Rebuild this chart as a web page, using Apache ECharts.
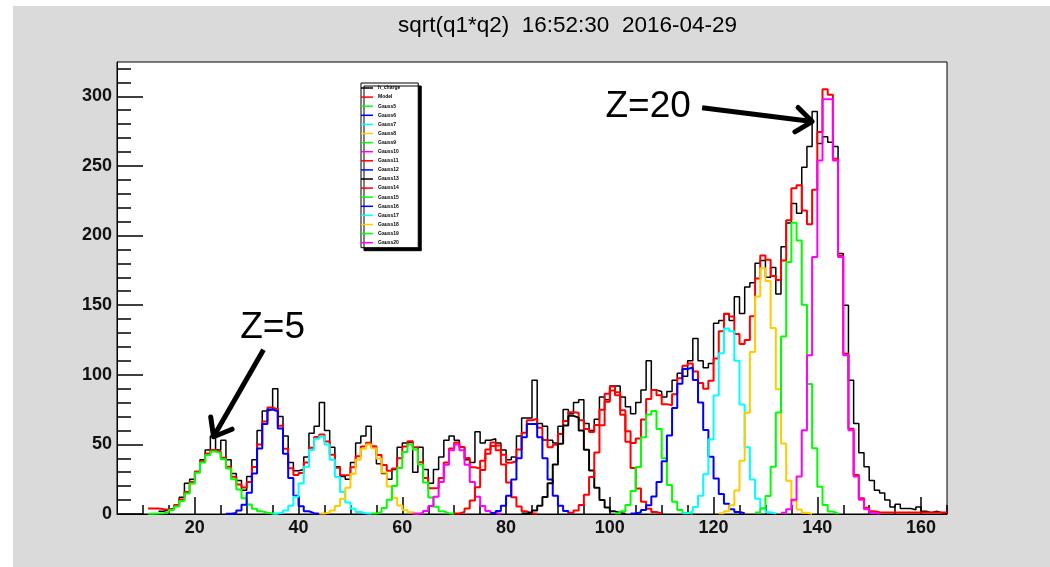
<!DOCTYPE html>
<html><head><meta charset="utf-8">
<script src="https://cdn.jsdelivr.net/npm/echarts@6/dist/echarts.min.js"></script>
<style>html,body{margin:0;padding:0;background:#fff}#c{width:1050px;height:567px}</style>
</head><body><div id="c"></div>
<script>
// ---------- data (1-unit bins, value = left edge of bin) ----------
const binWidth = 1;
const dataStart = 13;
const dataCounts = [
  2,3,4,6,12,22,25,30,39,46,
  56,46,53,39,29,24,17,27,39,60,
  74,75,90,70,56,37,31,32,41,58,
  63,80,60,48,34,27,25,37,51,56,
  63,48,36,29,25,32,48,51,52,30,
  48,32,22,32,41,53,56,53,48,39,
  37,59,51,53,54,51,46,39,41,56,
  69,69,96,65,63,53,51,63,75,72,
  80,82,65,60,68,84,82,92,92,84,
  77,72,80,89,110,89,88,84,88,96,
  101,99,110,126,110,105,108,137,139,144,
  139,156,144,163,166,180,182,170,177,158,
  192,209,223,216,249,264,289,266,271,267,
  264,187,150,96,65,44,34,24,17,15,
  10,5,7,4,4,3,5,2,1,2,1,0
];
const modelStart = 11;
const modelValues = [
  4,4,3.5,3,3.9,6.4,10.4,15.8,22.9,30.6,
  37.9,43.4,45.9,44.8,40.4,33.9,26.7,21.1,19.1,23,
  33.8,49.9,66.5,76.4,75.2,63.4,46.9,32.8,28,29.5,
  37,47.5,55.3,57.1,52,42.6,33.3,27.8,28,33.5,
  41.4,48.4,51.1,48.7,42.4,35.1,31,32.7,40.1,48.4,
  52.2,47.9,37.2,25.8,18.5,18.6,25.8,36.9,47,51.4,
  48.2,40.3,33.6,32.6,38.3,46.4,51.3,49.2,42.5,36.8,
  37.9,46.3,58.3,67.3,68.4,62,53.2,47.9,49.7,57.4,
  66.7,73.1,72.7,67.4,61,58.8,63.9,74.8,86.3,91.6,
  87.4,74.5,59.4,51,54.3,67.8,82.5,89,85.3,78.9,
  78.1,86,97.4,106.4,108.1,102.4,94.1,89.9,95.7,111.6,
  131.2,143.6,141.9,129.3,122,125,142.1,169.2,185.6,182.6,
  171,168,182,211,234,236,218,208,232.8,274.3,
  305,301,255.2,185.5,115,61.2,28,11.3,4.4,1.9,
  1.2,1,1,1,1,1,1,1,1,1,
  1,1,1,1
];
const gaussNames = ['Gauss5','Gauss6','Gauss7','Gauss8','Gauss9','Gauss10','Gauss11','Gauss12',
                    'Gauss13','Gauss14','Gauss15','Gauss16','Gauss17','Gauss18','Gauss19','Gauss20'];
const gaussStarts = [11,26,35,44,54,62,70,77,83,92,101,104,114,121,128,133];
const gauss5  = [0.1,0.3,0.6,1.4,2.9,5.4,9.4,14.8,21.9,29.6,36.9,42.4,44.9,43.8,39.4,32.7,24.9,17.6,11.4,6.8,3.8,1.9,0.9,0.4,0.1];
const gauss6  = [0.2,0.8,2.5,6.7,15.2,29,47,64.6,75,73.8,61.4,43.3,25.8,13.1,5.6,2,0.6,0.2];
const gauss7  = [0.3,1.0,2.6,6.0,12.3,21.9,34,45.9,54.1,55.7,49.9,39,26.6,15.8,8.2,3.7,1.5,0.5,0.1];
const gauss8  = [0.4,1.1,2.6,5.7,11,18.8,28.8,38.9,46.9,50,47.3,39.9,29.8,19.8,11.6,6.1,2.8,1.2,0.4];
const gauss9  = [0.4,1.5,4.3,10.2,20.1,33,44.6,50,46.3,35.5,22.6,11.8,5.2,1.9,0.6,0.2];
const gauss10 = [0.2,0.7,2.2,5.7,12.4,22.9,35.3,45.8,50,45.8,35.3,22.9,12.4,5.7,2.2,0.7,0.2];
const gauss11 = [0.4,1.4,4.0,9.7,19.2,31.6,43.2,48.9,45.8,35.6,22.7,12.1,5.3,1.9,0.6,0.2];
const gauss12 = [0.7,2.2,5.9,13.1,24.8,40,55.1,64.7,64.7,55.1,40,24.8,13.1,5.9,2.2,0.7];
const gauss13 = [0.3,1.0,2.5,5.9,12.2,22.1,35.6,50.5,63.5,70.5,69.2,60,46.1,31.3,18.8,10,4.7,1.9,0.7,0.2];
const gauss14 = [0.9,2.5,6.4,13.9,26.5,44.1,63.8,80.6,88.7,85.2,71.3,51.9,33,18.3,8.8,3.7,1.4,0.4];
const gauss15 = [0.5,2.0,6.5,16.6,33.8,55.1,71.5,74,61,40.1,20.8,8.8,2.9,0.8,0.2];
const gauss16 = [0.4,1.2,2.9,6.3,12.6,22.9,37.8,56.3,76.2,93.5,104.1,105.2,96.3,80,60.3,41.2,25.5,14.3,7.3,3.4,1.4,0.5];
const gauss17 = [0.5,1.7,5.1,13.1,28.6,53.5,85.1,115.4,133.3,131.2,110,78.6,47.9,24.8,11,4.2,1.3,0.4];
const gauss18 = [0.5,2,6.3,16.9,38.3,72.8,116.3,156.2,176.4,167.4,133.6,89.6,50.6,23.9,9.5,3.2,0.9,0.2];
const gauss19 = [1.0,4.0,12.9,34,72.9,127.4,181,209.1,196.5,150.3,93.4,47.3,19.5,6.5,1.8,0.4];
const gauss20 = [0.9,3.4,10.3,27,60.2,114,184.5,253.8,297.9,297.9,253.8,184.5,114,60.2,27,10.3,3.4,0.9,0.2];
const gaussValues = [gauss5,gauss6,gauss7,gauss8,gauss9,gauss10,gauss11,gauss12,
                     gauss13,gauss14,gauss15,gauss16,gauss17,gauss18,gauss19,gauss20];

const xLabelValues = [20,40,60,80,100,120,140,160];
const xMinorTicks  = [10,15,25,30,35,45,50,55,65,70,75,85,90,95,105,110,115,125,130,135,145,150,155,165];
const yLabelValues = [0,50,100,150,200,250,300];
const yMinorTicks  = [10,20,30,40,60,70,80,90,110,120,130,140,160,170,180,190,210,220,230,240,260,270,280,290,310,320];

const titleText = 'sqrt(q1*q2)  16:52:30  2016-04-29';
const annotations = [
  {label:'Z=5',  textX:35.0,  textY:133.6, fromX:33.24, fromY:117.9, toX:23.61, toY:55.5},
  {label:'Z=20', textX:107.4, textY:292.1, fromX:117.8, fromY:291.8, toX:139.0, toY:281.8}
];

// ---------- styles ----------
const FONT = '"Liberation Sans", Arial, sans-serif';
const gaussColors = ['#00ff00','#0000ff','#00ffff','#ffcc00','#00ff00','#ff00ff','#ff0000','#0000ff',
                     '#000000','#ff0000','#00ff00','#0000ff','#00ffff','#ffcc00','#00ff00','#ff00ff'];

function stepPoints(start, values) {
  const pts = values.map((v, i) => [start + i * binWidth, v]);
  pts.push([start + values.length * binWidth, values[values.length - 1]]);
  return pts;
}
function histSeries(name, color, start, values, width) {
  return {
    name, type: 'line', step: 'end', showSymbol: false, symbol: 'none',
    data: stepPoints(start, values), color,
    lineStyle: {color, width}, xAxisIndex: 0, yAxisIndex: 0, silent: true
  };
}

const series = [];
series.push(histSeries('h_charge', '#000000', dataStart, dataCounts, 1.5));
series.push(histSeries('Model', '#ff0000', modelStart, modelValues, 2));
gaussNames.forEach((n, i) => series.push(histSeries(n, gaussColors[i], gaussStarts[i], gaussValues[i], 2)));

series.push({
  type: 'custom', name: 'annot', silent: true, clip: false, z: 20,
  xAxisIndex: 0, yAxisIndex: 0,
  data: annotations.map(a => [a.toX, a.toY]),
  renderItem(params, api) {
    const a = annotations[params.dataIndex];
    const t = api.coord([a.textX, a.textY]);
    const p1 = api.coord([a.fromX, a.fromY]);
    const p2 = api.coord([a.toX, a.toY]);
    const dx = p2[0] - p1[0], dy = p2[1] - p1[1];
    const len = Math.hypot(dx, dy), ux = dx / len, uy = dy / len;
    const L = 20, ang = 38 * Math.PI / 180;
    const rot = (x, y, a) => [x * Math.cos(a) - y * Math.sin(a), x * Math.sin(a) + y * Math.cos(a)];
    const r1 = rot(-ux, -uy, ang), r2 = rot(-ux, -uy, -ang);
    return {type: 'group', children: [
      {type: 'line', shape: {x1: p1[0], y1: p1[1], x2: p2[0] - ux * 2, y2: p2[1] - uy * 2},
       style: {stroke: '#000', lineWidth: 5}},
      {type: 'polyline', shape: {points: [[p2[0] + r1[0] * L, p2[1] + r1[1] * L], [p2[0], p2[1]], [p2[0] + r2[0] * L, p2[1] + r2[1] * L]]},
       style: {stroke: '#000', lineWidth: 5, fill: null, lineJoin: 'round', lineCap: 'round'}},
      {type: 'text', x: t[0], y: t[1],
       style: {text: a.label, fontSize: 37, fontFamily: FONT, fill: '#000', align: 'center', verticalAlign: 'middle'}}
    ]};
  }
});

const chart = echarts.init(document.getElementById('c'), null, {renderer: 'canvas'});
chart.setOption({
  animation: false,
  backgroundColor: '#dadada',
  graphic: [
    {type: 'rect', left: 0, top: 0, shape: {width: 13, height: 567}, style: {fill: '#fff'}},
    {type: 'rect', left: 0, top: 0, shape: {width: 1050, height: 6}, style: {fill: '#fff'}}
  ],
  title: {
    text: titleText, left: 393, top: 9,
    textStyle: {fontSize: 22.5, fontWeight: 'normal', color: '#000', fontFamily: FONT}
  },
  grid: {left: 117, right: 103, top: 62, bottom: 53, show: true, backgroundColor: '#fff',
         borderColor: '#000', borderWidth: 1},
  legend: {
    orient: 'vertical', left: 361, top: 83,
    data: ['h_charge', 'Model'].concat(gaussNames),
    icon: 'rect', itemWidth: 12, itemHeight: 1.5, itemGap: 3.1,
    padding: [2, 18, 2, 0],
    backgroundColor: '#fff', borderColor: '#000', borderWidth: 1,
    shadowColor: '#000', shadowOffsetX: 3, shadowOffsetY: 3, shadowBlur: 0,
    selectedMode: false,
    textStyle: {fontSize: 5, fontWeight: 'bold', color: '#000', lineHeight: 6, fontFamily: FONT}
  },
  xAxis: [
    {type: 'value', min: 5, max: 165, position: 'bottom',
     axisLine: {show: true, lineStyle: {color: '#000', width: 1}},
     axisTick: {show: true, inside: true, length: 17, customValues: xLabelValues, lineStyle: {color: '#000', width: 1.5}},
     axisLabel: {show: true, customValues: xLabelValues, margin: 5, fontSize: 18, fontWeight: 'bold', color: '#111', fontFamily: FONT},
     splitLine: {show: false}},
    {type: 'value', min: 5, max: 165, position: 'bottom',
     axisLine: {show: false},
     axisTick: {show: true, inside: true, length: 9, customValues: xMinorTicks, lineStyle: {color: '#000', width: 1.5}},
     axisLabel: {show: false}, splitLine: {show: false}}
  ],
  yAxis: [
    {type: 'value', min: 0, max: 324.6, position: 'left',
     axisLine: {show: true, lineStyle: {color: '#000', width: 1}},
     axisTick: {show: true, inside: true, length: 26, customValues: yLabelValues, lineStyle: {color: '#000', width: 1.5}},
     axisLabel: {show: true, customValues: yLabelValues, margin: 5, fontSize: 18, fontWeight: 'bold', color: '#111', fontFamily: FONT},
     splitLine: {show: false}},
    {type: 'value', min: 0, max: 324.6, position: 'left',
     axisLine: {show: false},
     axisTick: {show: true, inside: true, length: 14, customValues: yMinorTicks, lineStyle: {color: '#000', width: 1.5}},
     axisLabel: {show: false}, splitLine: {show: false}}
  ],
  series
});
</script>
</body></html>
